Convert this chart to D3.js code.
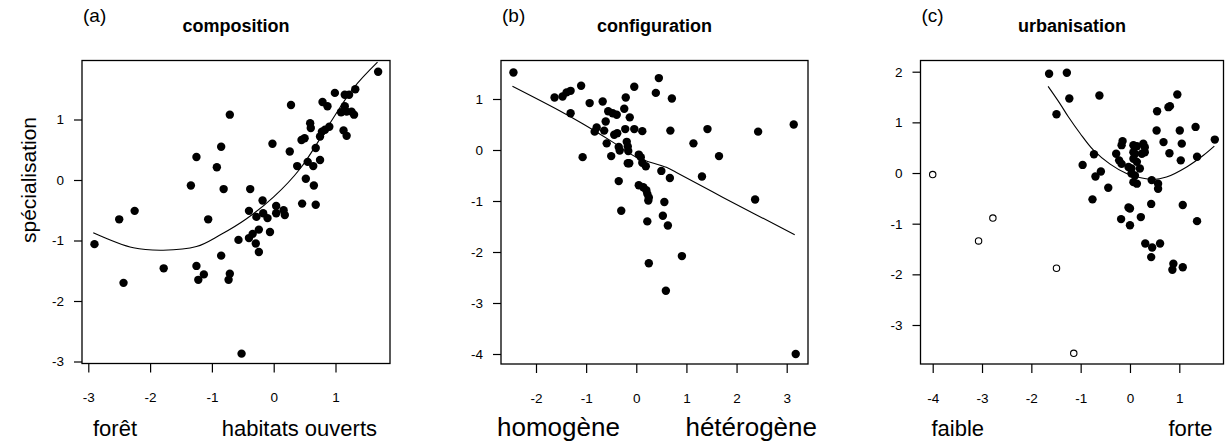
<!DOCTYPE html>
<html><head><meta charset="utf-8">
<script src="https://cdn.jsdelivr.net/npm/d3@7"></script>
<style>
html,body{margin:0;padding:0;background:#fff;}
svg text{font-family:"Liberation Sans",Arial,sans-serif;fill:#000;}
</style></head>
<body>
<svg id="chart" width="1225" height="445"></svg>
<script>
// ---------- data ----------
const panelLetters = ["(a)", "(b)", "(c)"];
const panelTitles = ["composition", "configuration", "urbanisation"];
const yAxisTitle = "spécialisation";
const leftLabels = ["forêt", "homogène", "faible"];
const rightLabels = ["habitats ouverts", "hétérogène", "forte"];

const compXTicks = [-3, -2, -1, 0, 1];
const compYTicks = [-3, -2, -1, 0, 1];
const configXTicks = [-2, -1, 0, 1, 2, 3];
const configYTicks = [-4, -3, -2, -1, 0, 1];
const urbXTicks = [-4, -3, -2, -1, 0, 1];
const urbYTicks = [-3, -2, -1, 0, 1, 2];

const compPoints = [[-2.90,-1.06],[-2.50,-0.65],[-2.43,-1.70],[-2.25,-0.51],[-1.78,-1.46],[-1.34,-0.09],[-1.25,0.38],[-1.25,-1.42],[-1.22,-1.65],[-1.13,-1.56],[-1.06,-0.65],[-0.92,0.21],[-0.85,0.55],[-0.81,-0.15],[-0.85,-1.25],[-0.71,1.08],[-0.71,-1.55],[-0.73,-1.65],[-0.57,-0.99],[-0.52,-2.87],[-0.40,-0.51],[-0.38,-0.15],[-0.40,-0.96],[-0.34,-0.89],[-0.29,-1.05],[-0.28,-0.61],[-0.24,-1.19],[-0.24,-0.82],[-0.18,-0.34],[-0.17,-0.55],[-0.10,-0.63],[-0.06,-0.86],[-0.02,0.60],[0.04,-0.43],[0.04,-0.55],[0.16,-0.50],[0.18,-0.58],[0.26,0.47],[0.28,1.24],[0.38,0.23],[0.46,-0.39],[0.45,0.66],[0.50,0.69],[0.52,0.02],[0.55,0.30],[0.59,0.94],[0.60,0.86],[0.64,0.23],[0.65,-0.09],[0.68,0.53],[0.68,-0.41],[0.75,0.33],[0.75,0.72],[0.79,1.29],[0.78,0.80],[0.83,0.83],[0.87,1.22],[0.90,0.88],[0.99,1.44],[1.09,1.12],[1.13,0.82],[1.15,1.41],[1.15,1.22],[1.18,0.73],[1.22,1.41],[1.18,1.13],[1.26,1.13],[1.30,1.08],[1.32,1.50],[1.69,1.79]];
const compCurve = [[-2.92,-0.87],[-2.27,-1.12],[-1.79,-1.16],[-1.25,-1.10],[-0.87,-0.91],[-0.44,-0.64],[0.00,-0.28],[0.43,0.19],[0.86,0.86],[1.29,1.52],[1.68,1.95]];

const configPoints = [[-2.45,1.52],[-1.63,1.03],[-1.47,1.05],[-1.39,1.13],[-1.31,1.16],[-1.10,1.26],[-1.31,0.72],[-1.07,-0.14],[-0.93,0.92],[-0.79,0.44],[-0.83,0.36],[-0.67,0.95],[-0.64,0.38],[-0.61,0.56],[-0.59,0.13],[-0.56,0.76],[-0.47,0.72],[-0.39,0.69],[-0.50,-0.12],[-0.44,0.30],[-0.38,0.33],[-0.35,0.06],[-0.33,-0.01],[-0.35,-0.61],[-0.30,-1.19],[-0.24,0.81],[-0.21,1.03],[-0.22,0.41],[-0.19,0.16],[-0.17,0.07],[-0.16,-0.02],[-0.14,-0.26],[-0.17,-0.26],[-0.13,0.64],[-0.04,1.24],[-0.04,0.41],[0.05,-0.09],[0.09,-0.14],[0.12,0.37],[0.12,-0.25],[0.19,-0.32],[0.05,-0.69],[0.14,-0.73],[0.20,-0.79],[0.22,-0.86],[0.25,-0.93],[0.24,-0.99],[0.22,-1.40],[0.25,-2.22],[0.39,1.12],[0.45,1.41],[0.50,-0.41],[0.56,-1.02],[0.53,-1.29],[0.63,-1.48],[0.59,-2.76],[0.67,-0.55],[0.68,0.38],[0.71,1.01],[0.91,-2.08],[1.14,0.13],[1.31,-0.52],[1.42,0.41],[1.65,-0.12],[2.37,-0.97],[2.43,0.36],[3.14,0.50],[3.18,-4.00]];
const configCurve = [[-2.47,1.25],[-1.53,0.77],[-1.06,0.51],[-0.46,0.15],[0.00,-0.14],[0.60,-0.34],[0.80,-0.44],[1.73,-0.93],[3.16,-1.66]];

const urbPoints = [[-1.64,1.96],[-1.28,1.98],[-1.23,1.47],[-1.49,1.16],[-0.62,1.53],[-0.96,0.16],[-0.73,0.37],[-0.70,-0.07],[-0.59,0.03],[-0.44,-0.29],[-0.76,-0.52],[-0.28,0.38],[-0.15,0.63],[-0.17,0.55],[-0.22,0.25],[-0.17,0.18],[0.07,0.55],[0.14,0.53],[0.27,0.58],[0.30,0.51],[0.07,0.41],[0.10,0.38],[0.24,0.38],[0.30,0.41],[0.07,0.28],[0.14,0.22],[-0.03,0.12],[0.03,0.09],[0.20,0.09],[0.03,-0.01],[0.10,-0.05],[0.07,-0.18],[0.14,-0.21],[0.44,-0.14],[0.57,-0.21],[0.57,-0.31],[0.54,0.84],[1.01,0.84],[0.68,0.61],[1.05,0.58],[0.80,0.39],[1.03,0.25],[0.55,1.22],[0.78,1.30],[0.81,1.32],[0.96,1.55],[1.33,0.91],[1.36,0.32],[1.72,0.66],[0.43,-0.61],[-0.03,-0.68],[0.00,-0.70],[-0.18,-0.91],[0.00,-1.03],[0.22,-0.87],[0.31,-1.39],[0.45,-1.47],[0.61,-1.39],[0.43,-1.66],[0.88,-1.79],[0.86,-1.91],[1.07,-1.86],[1.07,-0.63],[1.36,-0.95]];
const urbOutliers = [[-4.00,-0.03],[-2.78,-0.89],[-3.07,-1.34],[-1.49,-1.88],[-1.14,-3.56]];
const urbCurve = [[-1.66,1.71],[-1.42,1.37],[-1.25,1.11],[-1.01,0.78],[-0.74,0.45],[-0.41,0.18],[-0.07,-0.01],[0.20,-0.09],[0.47,-0.13],[0.74,-0.08],[1.15,0.12],[1.49,0.35],[1.71,0.53]];

// ---------- layout ----------
const svg = d3.select("#chart");
const panels = [
  {box:[82,390,60.5,363.5], xd:[-3,1], xr:[88.3,335.5], yd:[-3,1], yr:[361.5,119.5],
   xt:compXTicks, yt:compYTicks, pts:compPoints, open:[], curve:compCurve,
   labFont:22},
  {box:[501,808,60.5,364], xd:[-2,3], xr:[536,786.7], yd:[-4,1], yr:[354,99],
   xt:configXTicks, yt:configYTicks, pts:configPoints, open:[], curve:configCurve,
   labFont:26},
  {box:[920.5,1223.5,60.5,364], xd:[-4,1], xr:[932.7,1179.3], yd:[-3,2], yr:[325,71.7],
   xt:urbXTicks, yt:urbYTicks, pts:urbPoints, open:urbOutliers, curve:urbCurve,
   labFont:22}
];

panels.forEach((p, i) => {
  const [L, R, T, B] = p.box;
  const x = d3.scaleLinear().domain(p.xd).range(p.xr);
  const y = d3.scaleLinear().domain(p.yd).range(p.yr);
  const g = svg.append("g");
  const fmt = d => String(d);

  // axes (ticks only; box provides the lines)
  const ax = g.append("g").attr("transform", `translate(0,${B})`)
    .call(d3.axisBottom(x).tickValues(p.xt).tickFormat(fmt).tickSize(9).tickPadding(20));
  ax.select(".domain").remove();
  ax.selectAll("line").attr("stroke", "#000").attr("stroke-width", 1.2);
  ax.selectAll("text").attr("font-size", 13.5).attr("font-family", "Liberation Sans, Arial, sans-serif");

  const ay = g.append("g").attr("transform", `translate(${L},0)`)
    .call(d3.axisLeft(y).tickValues(p.yt).tickFormat(fmt).tickSize(8).tickPadding(10));
  ay.select(".domain").remove();
  ay.selectAll("line").attr("stroke", "#000").attr("stroke-width", 1.2);
  ay.selectAll("text").attr("font-size", 13.5).attr("font-family", "Liberation Sans, Arial, sans-serif");

  // box
  g.append("rect").attr("x", L).attr("y", T).attr("width", R - L).attr("height", B - T)
    .attr("fill", "none").attr("stroke", "#000").attr("stroke-width", 1.3);

  // curve
  g.append("path").datum(p.curve)
    .attr("d", d3.line().x(d => x(d[0])).y(d => y(d[1])).curve(d3.curveCatmullRom))
    .attr("fill", "none").attr("stroke", "#000").attr("stroke-width", 1.1);

  // points
  g.selectAll("circle.f").data(p.pts).join("circle").attr("class", "f")
    .attr("cx", d => x(d[0])).attr("cy", d => y(d[1])).attr("r", 4.2).attr("fill", "#000");
  g.selectAll("circle.o").data(p.open).join("circle").attr("class", "o")
    .attr("cx", d => x(d[0])).attr("cy", d => y(d[1])).attr("r", 3.2)
    .attr("fill", "#fff").attr("stroke", "#000").attr("stroke-width", 1.1);

  // letters and titles
  g.append("text").attr("x", L + 1).attr("y", 22).attr("font-size", 19).text(panelLetters[i]);
  g.append("text").attr("x", (L + R) / 2).attr("y", 32).attr("text-anchor", "middle")
    .attr("font-size", 18).attr("font-weight", "bold").text(panelTitles[i]);

  // end labels
  g.append("text").attr("x", i === 1 ? L - 4 : L + 11).attr("y", 436)
    .attr("font-size", p.labFont).text(leftLabels[i]);
  g.append("text").attr("x", i === 1 ? R + 9 : (i === 0 ? R - 13 : R - 11)).attr("y", 436)
    .attr("text-anchor", "end").attr("font-size", p.labFont).text(rightLabels[i]);
});

svg.append("text").attr("transform", "translate(36,180) rotate(-90)")
  .attr("text-anchor", "middle").attr("font-size", 21).text(yAxisTitle);
</script>
</body></html>
